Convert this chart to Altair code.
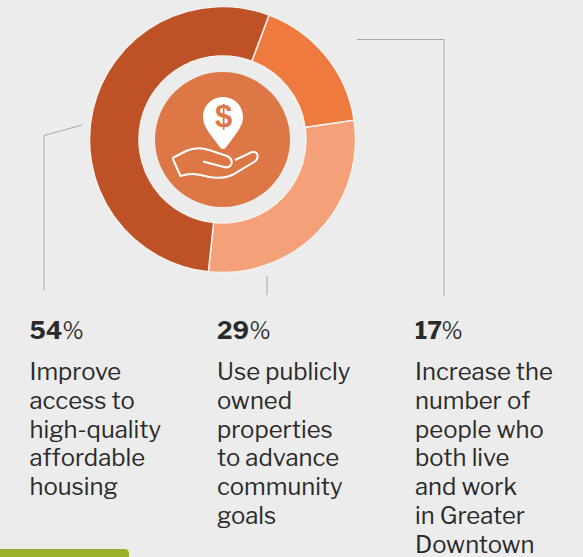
import math
import altair as alt
import pandas as pd

# Share of each goal, clockwise from the top-right wedge
goals = ["Increase", "Use", "Improve"]
shares = [17, 29, 54]
wedge_colors = ["#EE7A3D", "#F4A078", "#BE5226"]

# Caption columns, left to right
column_shares = [54, 29, 17]
column_texts = [
    "Improve\naccess to\nhigh-quality\naffordable\nhousing",
    "Use publicly\nowned\nproperties\nto advance\ncommunity\ngoals",
    "Increase the\nnumber of\npeople who\nboth live\nand work\nin Greater\nDowntown",
]

W, H = 583, 557
CX, CY = 222.5, 139.5
FONT = "Libre Franklin, Inter, Liberation Sans, sans-serif"
INK = "#2b2a2b"
START = math.radians(20.5)

wedges = pd.DataFrame({"goal": goals, "share": shares, "rank": range(len(goals))})

donut = alt.Chart(wedges).mark_arc(
    radius=133, radius2=83.5, stroke="#f4f1ee", strokeWidth=1.5
).encode(
    theta=alt.Theta(
        "share:Q", stack=True,
        scale=alt.Scale(domain=[0, 100], range=[START, START + 2 * math.pi]),
    ),
    color=alt.Color("goal:N", scale=alt.Scale(domain=goals, range=wedge_colors), legend=None),
    order=alt.Order("rank:O"),
    x=alt.value(CX),
    y=alt.value(CY),
)

anchor = alt.Chart(pd.DataFrame({"k": [0]}))


def shape(path, **style):
    # A size of 4 draws the custom path at one unit per pixel
    return anchor.mark_point(shape=path, size=4, opacity=1, **style).encode(
        x=alt.value(0), y=alt.value(0)
    )


hub = anchor.mark_arc(radius=67.5, color="#DD7746").encode(
    theta=alt.value(0), theta2=alt.value(2 * math.pi), x=alt.value(CX), y=alt.value(CY)
)

pin = shape(
    "M223,97 C234.5,97 243,106 243,117 C243,125 238,131 233,138 L225.5,148 "
    "Q223,150 220.5,148 L213,138 C208,131 203,125 203,117 C203,106 211.5,97 223,97 Z",
    filled=True, color="#ffffff", strokeWidth=0,
)
dollar = anchor.mark_text(
    text="$", font="Liberation Sans Narrow, Liberation Sans", fontSize=31,
    fontWeight="bold", color="#DD7746",
).encode(x=alt.value(223.5), y=alt.value(118))
hand = shape(
    "M172.5,158 L186,151 C194,147.5 201,147.5 209,150 L227,156 C232,158 233,163 230,166 "
    "C228,168 226,167.5 222,166.5 L203,161.5 "
    "M172.5,158 L180.5,176 C190,172.5 198,173.5 207,176.5 C218,179 226,178 233,174.5 "
    "L254,162 C260,158 258,151 252,152 L235,160",
    filled=False, color="#ffffff", strokeWidth=2,
)


def leader(x, x2, y, y2):
    return anchor.mark_rule(color="#a9a9a9", strokeWidth=1).encode(
        x=alt.value(x), x2=alt.value(x2), y=alt.value(y), y2=alt.value(y2)
    )


leaders = [
    leader(44, 44, 135.5, 290),
    leader(44, 82, 135.5, 125),
    leader(267, 267, 276, 295),
    leader(357, 444, 39.5, 39.5),
    leader(444, 444, 39.5, 296),
]

badge = anchor.mark_bar(color="#9CAF2A", cornerRadiusTopRight=12).encode(
    x=alt.value(0), x2=alt.value(129), y=alt.value(549), y2=alt.value(557)
)

captions = []
for left, percent_gap, share, body in zip(
    [29.5, 217, 415], [33, 32.5, 26.5], column_shares, column_texts
):
    row = alt.Chart(pd.DataFrame({"share": [share], "body": [body]}))
    number = row.transform_calculate(n="'' + datum.share").mark_text(
        align="left", baseline="alphabetic", font=FONT, fontSize=24,
        fontWeight=700, color=INK,
    ).encode(text="n:N", x=alt.value(left), y=alt.value(339))
    percent = row.mark_text(
        align="left", baseline="alphabetic", font=FONT, fontSize=23,
        fontWeight=400, color=INK,
    ).encode(text=alt.value("%"), x=alt.value(left + percent_gap), y=alt.value(339))
    text = row.mark_text(
        align="left", baseline="alphabetic", font=FONT, fontSize=23.9,
        lineHeight=28.8, lineBreak="\n", color=INK,
    ).encode(text="body:N", x=alt.value(left), y=alt.value(380))
    captions += [number, percent, text]

chart = alt.layer(
    badge, *leaders, donut, hub, pin, dollar, hand, *captions
).properties(
    width=W, height=H, padding=0, autosize=alt.AutoSizeParams(type="none"),
    background="#ECECEC",
).configure_view(stroke=None)

chart.save("out.html", embed_options={"renderer": "svg", "actions": False})
